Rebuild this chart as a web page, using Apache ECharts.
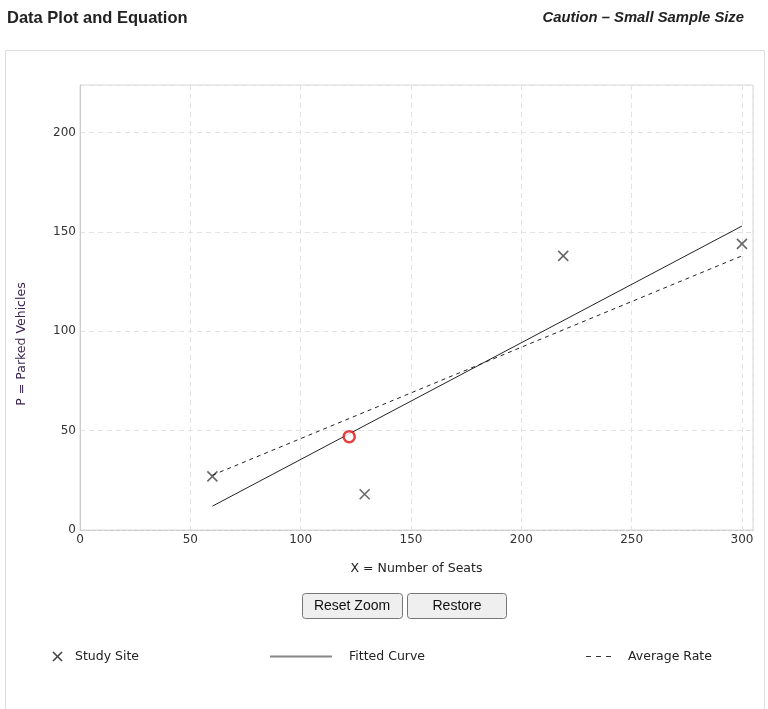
<!DOCTYPE html>
<html><head><meta charset="utf-8">
<script src="https://cdn.jsdelivr.net/npm/echarts@6/dist/echarts.min.js"></script>
<style>html,body{margin:0;padding:0;background:#fff;}#c{width:768px;height:709px;}</style>
</head><body><div id="c"></div>
<script>
const studySites = [[60, 27], [129, 18], [219, 138], [300, 144]];
const fittedCurve = [[60, 12], [300, 153]];
const averageRate = [[60, 27.6], [300, 138]];
const selectedPoint = [[122, 47]];
const xTitle = 'X = Number of Seats';
const yTitle = 'P = Parked Vehicles';
const legendNames = ['Study Site', 'Fitted Curve', 'Average Rate'];

const chart = echarts.init(document.getElementById('c'));
const font = '"DejaVu Sans", Verdana, sans-serif';
const xPath = 'path://M0,0L10,10M10,0L0,10';
chart.setOption({
  animation: false,
  grid: {left: 80, top: 85, right: 15, bottom: 179, show: true, borderColor: '#d8d8d8', borderWidth: 1},
  xAxis: {type: 'value', min: 0, max: 305, interval: 50,
    axisLine: {show: true, lineStyle: {color: '#ccc', type: 'dashed'}},
    axisTick: {show: false},
    splitLine: {show: true, lineStyle: {color: '#e3e3e3', type: [5, 4]}},
    axisLabel: {color: '#333', fontFamily: font, fontSize: 12, margin: 4, showMaxLabel: false},
    name: xTitle, nameLocation: 'middle', nameGap: 32, nameTextStyle: {color: '#222', fontFamily: font, fontSize: 12.5}},
  yAxis: {type: 'value', min: 0, max: 224, interval: 50,
    axisLine: {show: true, lineStyle: {color: '#ccc'}},
    axisTick: {show: false},
    splitLine: {show: true, lineStyle: {color: '#e3e3e3', type: [5, 4]}},
    axisLabel: {color: '#333', fontFamily: font, fontSize: 12, margin: 4, showMaxLabel: false}},
  series: [
    {type: 'line', name: legendNames[1], data: fittedCurve, symbol: 'none', lineStyle: {color: '#222', width: 1}},
    {type: 'line', name: legendNames[2], data: averageRate, symbol: 'none', lineStyle: {color: '#222', width: 1, type: [4, 4]}},
    {type: 'scatter', name: legendNames[0], data: studySites, symbol: xPath, symbolSize: 10,
      itemStyle: {color: 'transparent', borderColor: '#444', borderWidth: 1.6}},
    {type: 'scatter', name: 'Selected', data: selectedPoint, symbol: 'circle', symbolSize: 11,
      itemStyle: {color: '#fff', borderColor: '#e01010', borderWidth: 2.5}, z: 5}
  ],
  graphic: [
    {type: 'text', left: 7, top: 10, style: {text: 'Data Plot and Equation', font: 'bold 16.5px "Liberation Sans", Arial, sans-serif', fill: '#222'}},
    {type: 'text', right: 24, top: 10, style: {text: 'Caution – Small Sample Size', font: 'italic bold 14.8px "Liberation Sans", Arial, sans-serif', fill: '#222'}},
    {type: 'text', x: 22, y: 344, rotation: Math.PI / 2, style: {text: yTitle, font: '12.5px ' + font, fill: '#3a2550', align: 'center', verticalAlign: 'middle'}},
    {type: 'rect', shape: {x: 5.5, y: 50.5, width: 759, height: 700}, style: {fill: 'none', stroke: '#ddd', lineWidth: 1}, z: -1},
    {type: 'rect', shape: {x: 302.5, y: 593.5, width: 100, height: 25, r: 3}, style: {fill: '#efefef', stroke: '#767676', lineWidth: 1}},
    {type: 'text', x: 352, y: 606, style: {text: 'Reset Zoom', font: '14px "Liberation Sans", Arial, sans-serif', fill: '#111', align: 'center', verticalAlign: 'middle'}},
    {type: 'rect', shape: {x: 407.5, y: 593.5, width: 99, height: 25, r: 3}, style: {fill: '#efefef', stroke: '#767676', lineWidth: 1}},
    {type: 'text', x: 457, y: 606, style: {text: 'Restore', font: '14px "Liberation Sans", Arial, sans-serif', fill: '#111', align: 'center', verticalAlign: 'middle'}},
    {type: 'polyline', shape: {points: [[53, 652], [62, 661]]}, style: {stroke: '#444', lineWidth: 1.6}},
    {type: 'polyline', shape: {points: [[62, 652], [53, 661]]}, style: {stroke: '#444', lineWidth: 1.6}},
    {type: 'text', x: 75, y: 657, style: {text: legendNames[0], font: '12.5px ' + font, fill: '#222', verticalAlign: 'middle'}},
    {type: 'line', shape: {x1: 270, y1: 656.5, x2: 332, y2: 656.5}, style: {stroke: '#888', lineWidth: 2}},
    {type: 'text', x: 349, y: 657, style: {text: legendNames[1], font: '12.5px ' + font, fill: '#222', verticalAlign: 'middle'}},
    {type: 'line', shape: {x1: 586, y1: 656.5, x2: 613, y2: 656.5}, style: {stroke: '#333', lineWidth: 1, lineDash: [5, 5]}},
    {type: 'text', x: 628, y: 657, style: {text: legendNames[2], font: '12.5px ' + font, fill: '#222', verticalAlign: 'middle'}}
  ]
});
</script></body></html>
